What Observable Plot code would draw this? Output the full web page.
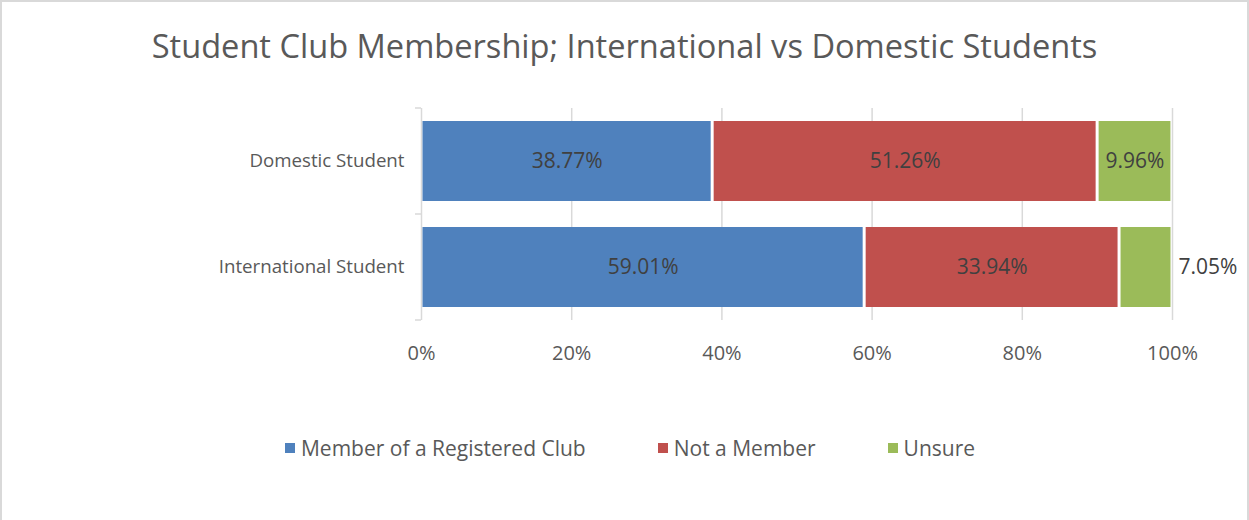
<!DOCTYPE html>
<html>
<head>
<meta charset="utf-8">
<script src="https://cdn.jsdelivr.net/npm/d3@7"></script>
<script src="https://cdn.jsdelivr.net/npm/@observablehq/plot@0.6"></script>
<style>
  html, body { margin: 0; padding: 0; background: #fff; }
  #wrap { position: relative; width: 1249px; height: 520px; overflow: hidden; font-family: "Open Sans", sans-serif; }
  #frame { position: absolute; left: 0; top: 0; width: 1249px; height: 540px; box-sizing: border-box; border: 2px solid #d9d9d9; pointer-events: none; }
  #title { position: absolute; left: 0; top: 26px; width: 1249px; text-align: center; font-size: 32.6px; line-height: 40px; color: #595959; }
  #chart { position: absolute; left: 0; top: 80px; }
  #legend { position: absolute; left: 0; top: 433px; width: 1260px; display: flex; justify-content: center; align-items: center; font-size: 21px; line-height: 30px; color: #595959; }
  .item { display: flex; align-items: center; margin: 0 36px; }
  .sw { width: 10px; height: 10px; margin-right: 6px; }
</style>
</head>
<body>
<div id="wrap">
  <div id="title">Student Club Membership; International vs Domestic Students</div>
  <div id="chart"></div>
  <div id="legend"></div>
  <div id="frame"></div>
</div>
<script>
const categories = ["Domestic Student", "International Student"];
const series = ["Member of a Registered Club", "Not a Member", "Unsure"];
const member = [38.77, 59.01];
const notMember = [51.26, 33.94];
const unsure = [9.96, 7.05];
const xTicks = [0, 20, 40, 60, 80, 100];
const colors = ["#4F81BD", "#C0504D", "#9BBB59"];

const seriesValues = [member, notMember, unsure];
const data = [];
categories.forEach((c, i) => {
  series.forEach((s, j) => data.push({category: c, series: s, value: seriesValues[j][i]}));
});
const fmt = v => v.toFixed(2) + "%";

// category boundary ticks on the y axis (Excel style)
function boundaryTicks(index, scales, values, dims) {
  const g = d3.create("svg:g");
  const top = dims.marginTop, bottom = dims.height - dims.marginBottom;
  const n = categories.length;
  const x0 = dims.marginLeft;
  for (let i = 0; i <= n; i++) {
    const y = top + (bottom - top) * i / n;
    g.append("line").attr("x1", x0 - 6).attr("x2", x0).attr("y1", y).attr("y2", y)
      .attr("stroke", "#d9d9d9").attr("stroke-width", 1.5);
  }
  return g.node();
}

const chart = Plot.plot({
  width: 1249,
  height: 300,
  marginLeft: 421,
  marginRight: 77,
  marginTop: 28,
  marginBottom: 60,
  style: {fontFamily: "Open Sans", fontSize: "18px", color: "#595959", background: "transparent"},
  x: {domain: [0, 100], label: null},
  y: {domain: categories, paddingInner: 0.245, paddingOuter: 0.1225, label: null},
  color: {domain: series, range: colors},
  marks: [
    Plot.ruleX(xTicks, {x: d => d, stroke: "#d9d9d9", strokeWidth: 1.5}),
    boundaryTicks,
    Plot.barX(data, Plot.stackX({x: "value", y: "category", fill: "series", insetLeft: 1.5, insetRight: 1.5})),
    Plot.textX(data, Plot.stackX({x: "value", y: "category", text: d => d.value >= 8 ? fmt(d.value) : null,
      fill: "#404040", fontSize: 21})),
    Plot.textX(data, Plot.stackX2({x: "value", y: "category", text: d => d.value < 8 ? fmt(d.value) : null,
      fill: "#404040", fontSize: 21, textAnchor: "start", dx: 6})),
    Plot.axisX(xTicks, {tickFormat: d => d + "%", tickSize: 0, tickPadding: 25, fontSize: 20, fill: "#595959", label: null}),
    Plot.axisY({tickSize: 0, tickPadding: 17, fontSize: 18.7, fill: "#595959", label: null})
  ]
});
document.getElementById("chart").appendChild(chart);

const legend = document.getElementById("legend");
series.forEach((s, j) => {
  const item = document.createElement("div");
  item.className = "item";
  const sw = document.createElement("div");
  sw.className = "sw";
  sw.style.background = colors[j];
  const t = document.createElement("span");
  t.textContent = s;
  item.appendChild(sw);
  item.appendChild(t);
  legend.appendChild(item);
});
</script>
</body>
</html>
